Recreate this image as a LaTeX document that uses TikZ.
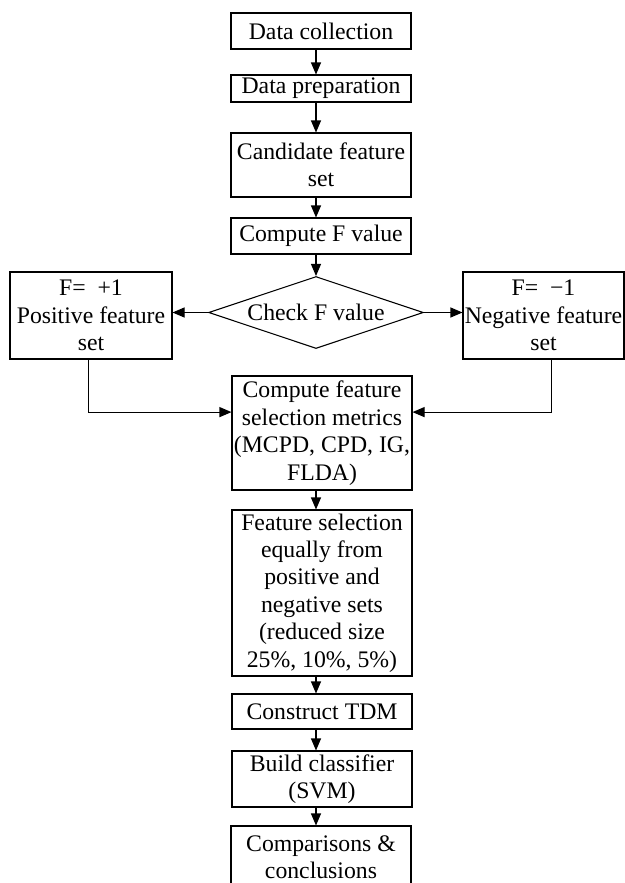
\documentclass[tikz,border=0pt]{standalone}
\usepackage{fontspec}
\setmainfont{Liberation Serif}
\usetikzlibrary{shapes.geometric,arrows.meta}
\tikzset{
  box/.style={draw, line width=0.8pt, inner sep=0pt, align=center, minimum width=135pt},
  decision/.style={draw, diamond, line width=0.8pt, inner sep=0pt, shape aspect=3,
    minimum width=161pt, minimum height=54pt},
  arr/.style={line width=0.8pt, -{Triangle[length=9pt,width=7.5pt]}}
}
\begin{document}
\begin{tikzpicture}[x=0.75pt, y=-0.75pt, font=\fontsize{17.8}{20.6}\selectfont]
\useasboundingbox (0,0) rectangle (625,883); % page
\clip (0,0) rectangle (625,883); % last box runs off the page
\node[box, minimum height=27pt] (coll) at (321,31) {Data collection}; % step 1
\node[box, minimum height=20.25pt] (prep) at (321,88.5) {Data preparation}; % step 2
\node[box, minimum height=48pt] (cand) at (321,165) {Candidate feature\\set}; % step 3
\node[box, minimum height=27pt] (fval) at (321,236) {Compute F value}; % step 4
\node[decision] (chk) at (316,312.5) {Check F value}; % decision
\node[box, minimum width=121.5pt, minimum height=65.25pt] (pos) at (91,315.5)
  {F=~ +1\\Positive feature\\set}; % left branch
\node[box, minimum width=120.75pt, minimum height=65.25pt] (neg) at (543.5,315.5)
  {F=~ −1\\Negative feature\\set}; % right branch
\node[box, minimum height=85.5pt] (metr) at (322,433)
  {Compute feature\\selection metrics\\(MCPD, CPD, IG,\\FLDA)}; % metrics
\node[box, minimum height=124.5pt] (sel) at (322,593)
  {Feature selection\\equally from\\positive and\\negative sets\\(reduced size\\25\%, 10\%, 5\%)}; % selection
\node[box, minimum height=26.25pt] (tdm) at (322,711.5) {Construct TDM}; % TDM
\node[box, minimum height=42pt] (svm) at (322,779) {Build classifier\\(SVM)}; % classifier
\node[box, minimum height=46.5pt] (conc) at (321,857) {Comparisons \&\\conclusions}; % last step
\draw[arr] (coll.south -| chk) -- (prep.north -| chk); % 1 to 2
\draw[arr] (prep.south -| chk) -- (cand.north -| chk); % 2 to 3
\draw[arr] (cand.south -| chk) -- (fval.north -| chk); % 3 to 4
\draw[arr] (fval.south -| chk) -- (chk.north); % 4 to check
\draw[arr] (chk.west) -- (chk.west -| pos.east); % to positive
\draw[arr] (chk.east) -- (chk.east -| neg.west); % to negative
\draw[arr] (pos.-93) |- (metr.167); % positive to metrics
\draw[arr] (neg.-80) |- (metr.13); % negative to metrics
\draw[arr] (metr.south -| chk) -- (sel.north -| chk); % metrics to selection
\draw[arr] (sel.south -| chk) -- (tdm.north -| chk); % selection to TDM
\draw[arr] (tdm.south -| chk) -- (svm.north -| chk); % TDM to classifier
\draw[arr] (svm.south -| chk) -- (conc.north -| chk); % classifier to conclusions
\end{tikzpicture}
\end{document}
